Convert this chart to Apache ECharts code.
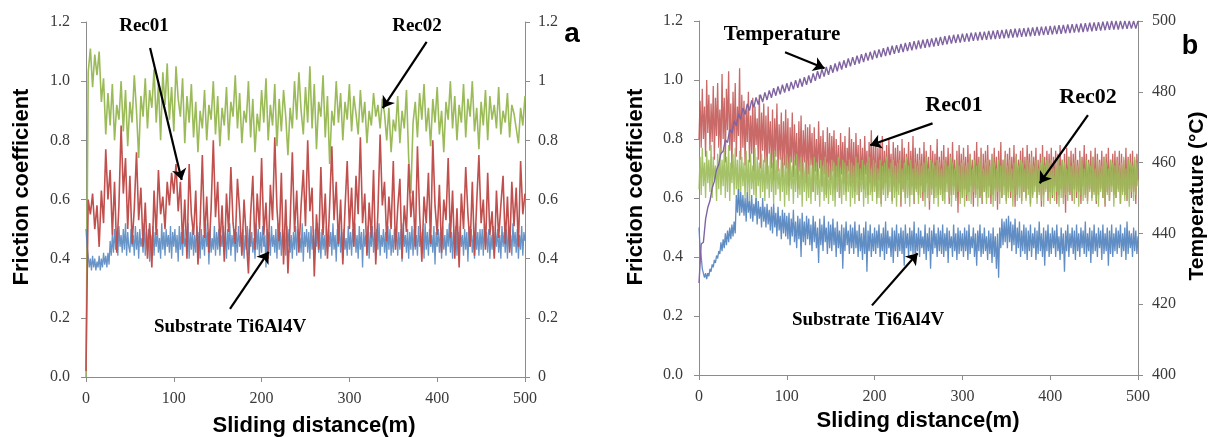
<!DOCTYPE html>
<html>
<head>
<meta charset="utf-8">
<script src="https://cdn.jsdelivr.net/npm/echarts@6/dist/echarts.min.js"></script>
<style>html,body{margin:0;padding:0;background:#fff}#c{width:1208px;height:437px}</style>
</head>
<body>
<div id="c"></div>
<script>
// sampling steps along sliding distance (m)
const coarseStep = 2.5;   // Rec01 / Rec02 of panel a, temperature
const fineStep = 1.25;    // substrate of panel a, all friction traces of panel b
const xTicks = [0, 100, 200, 300, 400, 500];

// Panel a: friction coefficient
const rec02A = [0.00,1.03,1.11,0.98,1.09,1.02,1.10,0.93,1.01,0.82,
0.96,0.85,0.99,0.80,0.92,0.87,1.00,0.83,0.97,0.78,
0.93,0.86,1.02,0.90,0.74,0.95,0.88,1.01,0.84,0.97,
0.91,1.04,0.86,0.99,0.80,1.03,0.92,1.06,0.87,0.98,
0.83,1.05,0.94,0.88,1.01,0.79,0.95,0.86,0.99,0.81,
0.93,0.76,0.90,0.84,0.97,0.80,0.92,0.87,1.00,0.82,
0.95,0.78,0.91,0.85,0.98,0.80,0.93,0.88,1.02,0.84,
0.96,0.79,0.90,0.86,1.00,0.81,0.94,0.76,0.89,0.83,
0.97,0.86,1.01,0.80,0.92,0.85,0.99,0.78,0.94,0.83,
0.97,0.88,0.75,0.91,0.84,1.00,0.87,1.03,0.90,0.82,
0.98,0.86,1.05,0.84,0.99,0.77,0.93,0.88,1.02,0.81,
0.95,0.72,0.90,0.85,1.00,0.86,0.96,0.80,0.93,0.87,
0.99,0.83,0.95,0.89,0.82,0.97,0.86,0.93,0.79,0.90,
0.85,0.96,0.88,0.92,0.84,0.94,0.89,0.80,0.91,0.76,
0.87,0.83,0.95,0.79,0.90,0.84,0.97,0.74,0.62,0.86,
0.93,0.81,0.96,0.87,0.99,0.83,0.91,0.78,0.94,0.86,
0.98,0.82,0.90,0.76,0.93,0.87,1.00,0.84,0.95,0.80,
0.92,0.86,0.99,0.81,0.94,0.88,1.00,0.83,0.91,0.77,
0.93,0.85,0.97,0.80,0.95,0.87,0.92,0.84,0.98,0.82,
0.90,0.86,0.96,0.81,0.92,0.89,0.84,0.79,0.91,0.85,
0.95];

const rec01A = [0.02,0.60,0.55,0.62,0.50,0.58,0.44,0.63,0.52,0.77,
0.60,0.70,0.48,0.66,0.42,0.58,0.85,0.62,0.74,0.50,
0.68,0.45,0.57,0.76,0.53,0.64,0.44,0.59,0.40,0.52,
0.37,0.63,0.48,0.70,0.55,0.61,0.50,0.66,0.58,0.69,
0.62,0.72,0.56,0.66,0.45,0.60,0.40,0.72,0.55,0.48,
0.63,0.38,0.52,0.75,0.47,0.61,0.42,0.57,0.80,0.54,
0.66,0.44,0.58,0.39,0.62,0.49,0.71,0.52,0.45,0.67,
0.56,0.41,0.60,0.47,0.35,0.55,0.68,0.43,0.62,0.50,
0.74,0.48,0.59,0.40,0.65,0.53,0.81,0.57,0.46,0.69,
0.38,0.60,0.35,0.52,0.76,0.49,0.63,0.42,0.58,0.70,
0.51,0.80,0.56,0.64,0.34,0.55,0.43,0.71,0.48,0.62,
0.40,0.58,0.78,0.53,0.66,0.45,0.60,0.38,0.57,0.73,
0.50,0.64,0.44,0.68,0.55,0.81,0.52,0.62,0.41,0.59,
0.47,0.70,0.38,0.56,0.82,0.58,0.66,0.46,0.61,0.50,
0.73,0.43,0.57,0.67,0.40,0.58,0.49,0.72,0.54,0.63,
0.44,0.78,0.55,0.39,0.61,0.52,0.69,0.45,0.80,0.58,
0.48,0.65,0.42,0.60,0.53,0.74,0.47,0.63,0.40,0.57,
0.37,0.62,0.50,0.71,0.55,0.44,0.66,0.41,0.59,0.75,
0.52,0.60,0.43,0.69,0.48,0.56,0.40,0.63,0.47,0.58,
0.68,0.45,0.61,0.42,0.66,0.51,0.64,0.44,0.73,0.55,
0.62];

const substrateA = [.50,.44,.41,.37,.40,.36,.41,.37,.40,.36,.39,.37,.41,.36,.40,.37,.42,.38,.41,.37,
.42,.38,.46,.41,.48,.42,.50,.43,.49,.41,.51,.44,.48,.42,.50,.43,.52,.41,.49,.44,
.42,.50,.44,.48,.41,.51,.43,.49,.40,.50,.44,.47,.42,.52,.41,.49,.43,.50,.39,.48,
.43,.51,.41,.49,.44,.50,.42,.47,.40,.52,.43,.49,.41,.50,.44,.48,.42,.51,.40,.49,
.44,.50,.42,.48,.39,.51,.43,.49,.41,.50,.44,.47,.42,.52,.40,.49,.43,.50,.41,.48,
.42,.51,.44,.49,.40,.50,.43,.48,.41,.52,.44,.49,.38,.50,.42,.47,.43,.51,.41,.49,
.43,.50,.41,.48,.44,.51,.42,.49,.40,.50,.43,.52,.41,.48,.44,.50,.39,.49,.42,.51,
.44,.49,.42,.50,.40,.48,.43,.51,.41,.50,.44,.49,.42,.47,.40,.52,.43,.50,.41,.49,
.42,.51,.44,.48,.37,.50,.43,.49,.41,.51,.44,.48,.42,.50,.40,.52,.43,.49,.41,.50,
.43,.49,.41,.51,.44,.50,.42,.48,.40,.49,.43,.51,.41,.50,.44,.47,.42,.52,.39,.49,
.44,.50,.42,.49,.40,.51,.43,.48,.41,.50,.44,.52,.42,.49,.40,.50,.43,.48,.41,.51,
.42,.50,.44,.49,.41,.52,.43,.48,.39,.50,.44,.51,.42,.49,.40,.50,.43,.47,.41,.51,
.43,.49,.41,.50,.44,.52,.42,.48,.40,.51,.43,.49,.37,.50,.44,.48,.42,.51,.40,.49,
.44,.51,.42,.49,.40,.50,.43,.52,.41,.48,.44,.50,.42,.49,.40,.51,.43,.50,.41,.48,
.42,.50,.44,.51,.41,.49,.43,.50,.39,.52,.44,.48,.42,.50,.40,.49,.43,.51,.41,.50,
.43,.48,.41,.51,.44,.49,.42,.50,.40,.52,.43,.49,.41,.50,.44,.48,.42,.51,.38,.49,
.44,.50,.42,.49,.40,.51,.43,.48,.41,.50,.44,.52,.42,.49,.40,.50,.43,.51,.41,.49,
.42,.51,.44,.48,.41,.50,.43,.49,.39,.51,.44,.50,.42,.48,.40,.52,.43,.49,.41,.50,
.43,.50,.41,.52,.44,.49,.42,.50,.40,.48,.43,.51,.41,.49,.44,.50,.42,.48,.40,.51,
.44,.49,.42,.50,.40,.51,.43,.48,.41,.52,.44,.49,.42,.50,.40,.48,.43,.51,.41,.49,
.46];

// Panel b: friction coefficient
const rec01B = [.80,.93,.77,.97,.80,.91,.74,1.00,.82,.95,.76,.92,.79,.98,.73,.94,.81,.99,.77,.90,
.75,1.02,.80,.94,.72,.97,.83,1.03,.76,.92,.70,.96,.79,.99,.74,.91,.81,1.04,.73,.95,
.77,.93,.71,.90,.79,.96,.72,.88,.75,.94,.69,.91,.78,.87,.73,.95,.70,.89,.76,.92,
.72,.88,.68,.91,.75,.86,.70,.90,.66,.87,.74,.92,.69,.85,.73,.89,.67,.86,.71,.90,
.70,.87,.64,.84,.72,.89,.67,.85,.71,.82,.63,.86,.69,.88,.66,.83,.72,.85,.65,.84,
.68,.85,.71,.82,.62,.84,.69,.80,.66,.86,.70,.81,.64,.83,.68,.79,.61,.84,.67,.82,
.66,.81,.69,.83,.63,.80,.67,.78,.60,.82,.68,.79,.65,.81,.62,.77,.69,.84,.64,.80,
.65,.79,.62,.82,.67,.78,.59,.80,.66,.77,.63,.81,.68,.76,.61,.79,.65,.83,.62,.78,
.64,.80,.60,.77,.66,.79,.58,.81,.63,.76,.65,.78,.61,.80,.67,.75,.59,.79,.64,.77,
.62,.78,.65,.76,.57,.80,.63,.77,.60,.75,.66,.79,.61,.76,.64,.81,.58,.77,.63,.75,
.61,.77,.64,.75,.59,.79,.62,.76,.65,.74,.56,.78,.63,.76,.60,.75,.64,.80,.61,.74,
.63,.76,.59,.78,.62,.74,.65,.77,.58,.75,.61,.79,.64,.73,.60,.76,.55,.78,.62,.75,
.60,.77,.63,.74,.59,.78,.62,.75,.64,.73,.57,.76,.61,.79,.63,.74,.60,.77,.58,.75,
.62,.76,.60,.78,.64,.73,.58,.75,.61,.77,.63,.74,.56,.76,.62,.79,.60,.73,.64,.76,
.59,.75,.62,.77,.60,.74,.63,.78,.57,.75,.61,.73,.64,.76,.59,.77,.62,.74,.60,.78,
.63,.75,.58,.76,.61,.74,.64,.77,.60,.73,.62,.75,.57,.78,.61,.74,.63,.76,.59,.75,
.62,.77,.60,.74,.64,.76,.58,.75,.61,.78,.63,.73,.60,.75,.55,.77,.62,.74,.61,.76,
.59,.75,.63,.77,.60,.73,.62,.76,.58,.74,.64,.78,.61,.75,.59,.73,.63,.76,.60,.74,
.62,.77,.58,.75,.61,.73,.63,.76,.60,.74,.57,.75,.62,.77,.59,.73,.64,.75,.61,.76,
.60,.74,.63,.76,.58,.75,.62,.73,.61,.77,.59,.74,.63,.75,.60,.76,.62,.73,.58,.75,
.66];

const rec02B = [.63,.74,.61,.77,.64,.72,.60,.76,.65,.73,.62,.78,.60,.74,.66,.71,.59,.75,.63,.77,
.61,.73,.64,.76,.60,.74,.62,.78,.59,.72,.65,.75,.61,.77,.63,.73,.58,.76,.62,.74,
.64,.72,.60,.76,.62,.73,.59,.75,.63,.71,.61,.77,.58,.74,.64,.72,.60,.75,.62,.73,
.59,.74,.63,.71,.60,.75,.62,.72,.58,.76,.61,.73,.63,.70,.59,.74,.62,.72,.57,.75,
.61,.72,.59,.74,.63,.71,.58,.73,.62,.75,.60,.70,.61,.74,.57,.72,.62,.73,.59,.71,
.60,.73,.58,.71,.62,.74,.59,.72,.61,.70,.57,.73,.62,.71,.59,.74,.60,.72,.58,.70,
.61,.73,.59,.72,.57,.71,.62,.74,.60,.70,.58,.73,.61,.72,.59,.71,.62,.73,.57,.72,
.60,.71,.58,.74,.61,.72,.59,.70,.62,.73,.57,.71,.60,.72,.58,.74,.61,.70,.59,.73,
.62,.72,.58,.70,.60,.73,.57,.71,.61,.72,.59,.74,.60,.70,.62,.72,.58,.73,.60,.71,
.57,.72,.61,.73,.59,.70,.62,.72,.58,.74,.60,.71,.57,.73,.61,.70,.59,.72,.62,.71,
.58,.73,.60,.71,.62,.72,.57,.74,.60,.70,.59,.73,.61,.72,.58,.71,.60,.73,.57,.72,
.61,.70,.59,.73,.58,.72,.62,.71,.60,.74,.57,.72,.61,.70,.59,.73,.62,.71,.58,.72,
.60,.73,.57,.71,.61,.72,.59,.74,.58,.70,.62,.73,.60,.71,.57,.72,.61,.74,.59,.70,
.62,.72,.58,.73,.60,.71,.61,.74,.57,.72,.59,.70,.62,.73,.58,.71,.60,.72,.61,.74,
.58,.71,.60,.73,.62,.70,.57,.72,.61,.74,.59,.71,.60,.73,.58,.72,.62,.70,.59,.73,
.61,.72,.57,.74,.60,.71,.62,.73,.58,.70,.61,.72,.59,.74,.57,.71,.62,.73,.60,.72,
.58,.73,.61,.70,.59,.72,.62,.74,.57,.71,.60,.73,.58,.72,.61,.70,.59,.74,.62,.71,
.60,.72,.58,.73,.62,.71,.57,.74,.61,.72,.59,.70,.60,.73,.58,.72,.62,.71,.59,.74,
.61,.70,.59,.73,.57,.72,.62,.71,.60,.74,.58,.72,.61,.70,.59,.73,.62,.72,.57,.71,
.60,.73,.62,.71,.58,.72,.61,.74,.59,.70,.60,.73,.57,.72,.62,.71,.59,.74,.61,.72,
.64];

const substrateB = [.50,.43,.40,.36,.355,.33,.345,.325,.345,.335,.36,.35,.375,.365,.39,.38,.405,.395,.42,.41,
.45,.42,.46,.43,.48,.44,.49,.45,.50,.46,.51,.47,.52,.48,.61,.55,.63,.54,.62,.55,
.61,.54,.60,.52,.62,.55,.59,.53,.61,.52,.58,.54,.60,.51,.59,.53,.57,.50,.60,.52,
.57,.50,.58,.51,.56,.49,.57,.48,.58,.50,.55,.47,.57,.49,.54,.46,.56,.48,.55,.47,
.54,.46,.55,.44,.53,.47,.56,.45,.52,.43,.54,.46,.53,.40,.55,.45,.52,.44,.54,.46,
.53,.44,.51,.42,.54,.45,.52,.43,.50,.38,.53,.44,.51,.42,.54,.45,.50,.41,.52,.43,
.51,.42,.53,.44,.50,.40,.52,.43,.49,.41,.51,.36,.50,.42,.52,.44,.49,.41,.51,.43,
.50,.41,.52,.43,.49,.40,.51,.42,.48,.39,.50,.41,.52,.35,.49,.42,.51,.40,.48,.42,
.50,.41,.49,.43,.51,.40,.48,.42,.50,.39,.52,.41,.49,.43,.47,.40,.50,.38,.49,.42,
.51,.40,.48,.42,.50,.41,.49,.37,.51,.43,.48,.40,.50,.42,.49,.41,.52,.39,.48,.42,
.50,.40,.49,.43,.47,.41,.51,.39,.48,.42,.50,.36,.49,.41,.51,.43,.48,.40,.50,.42,
.49,.41,.51,.40,.48,.42,.50,.38,.49,.43,.47,.40,.51,.42,.48,.39,.50,.41,.49,.42,
.48,.40,.50,.42,.49,.39,.51,.41,.47,.43,.50,.40,.48,.37,.49,.42,.51,.40,.48,.41,
.50,.42,.47,.39,.49,.41,.48,.38,.50,.40,.47,.36,.48,.33,.50,.43,.53,.44,.52,.45,
.53,.43,.54,.45,.52,.42,.51,.44,.53,.41,.50,.43,.52,.40,.49,.42,.51,.41,.50,.39,
.49,.42,.51,.40,.48,.43,.50,.39,.49,.41,.52,.42,.48,.40,.50,.37,.49,.42,.51,.40,
.48,.41,.50,.43,.49,.40,.51,.42,.47,.39,.50,.41,.48,.35,.49,.42,.51,.40,.48,.43,
.50,.41,.49,.39,.51,.42,.48,.40,.50,.43,.49,.41,.52,.40,.48,.42,.50,.38,.49,.41,
.51,.42,.48,.40,.50,.43,.49,.39,.51,.41,.48,.42,.50,.37,.49,.41,.51,.40,.48,.42,
.50,.41,.49,.43,.51,.40,.48,.42,.50,.39,.52,.41,.49,.43,.48,.40,.50,.42,.49,.41,
.47];

// Panel b: temperature (°C)
const temperatureB = [426,437,437.5,444,447.3,449.2,452.8,454.7,458,459.5,
462.6,463.2,466.4,465.7,469.4,468.3,471.8,470.4,473.8,472.2,
475.4,473.6,476.6,474.7,477.6,475.6,478.4,476.4,479.2,477.1,
479.8,477.7,480.4,478.3,481,478.9,481.5,479.3,482,479.8,
482.4,480.2,482.8,480.7,483.3,481.1,483.7,481.5,484.1,482,
484.6,482.5,485.2,483.1,485.8,483.7,486.4,484.3,487,484.8,
487.5,485.4,488,485.8,488.5,486.3,488.9,486.8,489.4,487.2,
489.8,487.6,490.2,488,490.6,488.4,491,488.8,491.3,489.1,
491.7,489.5,492,489.8,492.3,490.1,492.7,490.4,493,490.7,
493.2,491,493.5,491.2,493.8,491.5,494,491.7,494.3,492,
494.5,492.2,494.7,492.4,494.9,492.6,495.1,492.8,495.3,493,
495.5,493.2,495.7,493.4,495.9,493.6,496.1,493.8,496.2,493.9,
496.4,494.1,496.5,494.2,496.7,494.4,496.8,494.5,496.9,494.6,
497,494.7,497.2,494.8,497.3,494.9,497.4,495,497.5,495.1,
497.6,495.2,497.7,495.3,497.8,495.4,497.9,495.5,498,495.6,
498.1,495.7,498.2,495.8,498.3,495.9,498.4,496,498.5,496.1,
498.6,496.2,498.7,496.3,498.8,496.4,498.9,496.5,499,496.6,
499.1,496.7,499.2,496.8,499.3,496.9,499.4,497,499.5,497.1,
499.6,497.2,499.7,497.3,499.8,497.4,499.9,497.5,500,497.6,
500,497.6,500,497.7,500,497.8,500,497.9,500,497.9,
500];

function pairs(arr, step) { return arr.map((v, i) => [i * step, v]); }

const AXIS_COLOR = '#8c8c8c';
const labelStyle = { fontFamily: 'Liberation Serif', fontSize: 16, color: '#3a3a3a' };

function xAxis(gridIndex) {
  return {
    type: 'value', gridIndex, min: xTicks[0], max: xTicks[xTicks.length - 1], interval: 100,
    axisLine: { show: true, lineStyle: { color: AXIS_COLOR } },
    axisTick: { show: true, length: 5, lineStyle: { color: AXIS_COLOR } },
    axisLabel: Object.assign({ margin: 14 }, labelStyle),
    splitLine: { show: false }
  };
}
function yAxis(gridIndex, position, min, max, interval, fmt, margin) {
  return {
    type: 'value', gridIndex, position, min, max, interval,
    axisLine: { show: true, onZero: false, lineStyle: { color: AXIS_COLOR } },
    axisTick: { show: true, length: 5, lineStyle: { color: AXIS_COLOR } },
    axisLabel: Object.assign({ margin, formatter: fmt }, labelStyle),
    splitLine: { show: false }
  };
}

const arrowBase = {
  silent: true, animation: false, symbol: ['none', 'arrow'], symbolSize: 11,
  label: { show: false }, emphasis: { disabled: true },
  lineStyle: { color: '#000', width: 2.2, type: 'solid', opacity: 1 }
};

function lineSeries(name, data, color, width, opacity, xi, yi, extra) {
  return Object.assign({
    name, type: 'line', data, xAxisIndex: xi, yAxisIndex: yi,
    showSymbol: false, symbol: 'none', animation: false, silent: true,
    lineStyle: { color, width, opacity }, itemStyle: { color }
  }, extra || {});
}

const annoFont = (size) => 'bold ' + size + 'px "Liberation Serif"';
const titleFont = 'bold 22px "Liberation Sans"';
function txt(text, x, y, font, rot) {
  return { type: 'text', x, y, rotation: rot || 0, silent: true,
    style: { text, font, fill: '#000', align: 'center', verticalAlign: 'middle' } };
}

const option = {
  animation: false,
  backgroundColor: '#fff',
  grid: [
    { left: 86, top: 22, width: 439, height: 355 },
    { left: 699, top: 21, width: 439, height: 354 }
  ],
  xAxis: [xAxis(0), xAxis(1)],
  yAxis: [
    yAxis(0, 'left', 0, 1.2, 0.2, v => v.toFixed(1), 16),
    yAxis(0, 'right', 0, 1.2, 0.2, v => String(+v.toFixed(1)), 13),
    yAxis(1, 'left', 0, 1.2, 0.2, v => v.toFixed(1), 16),
    yAxis(1, 'right', 400, 500, 20, v => String(v), 14)
  ],
  series: [
    lineSeries('Rec02', pairs(rec02A, coarseStep), '#9BBB59', 1.6, 1, 0, 0),
    lineSeries('Substrate Ti6Al4V', pairs(substrateA, fineStep), '#4F81BD', 1.3, 0.85, 0, 0),
    lineSeries('Rec01', pairs(rec01A, coarseStep), '#C0504D', 1.6, 1, 0, 0, {
      markLine: Object.assign({}, arrowBase, { data: [
        [{ coord: [73, 1.112] }, { coord: [109, 0.666] }],
        [{ coord: [388, 1.133] }, { coord: [338, 0.909] }],
        [{ coord: [164, 0.230] }, { coord: [208, 0.423] }]
      ] })
    }),
    lineSeries('Rec01 b', pairs(rec01B, fineStep), '#C0504D', 1.3, 0.85, 1, 2),
    lineSeries('Rec02 b', pairs(rec02B, fineStep), '#9BBB59', 1.3, 0.9, 1, 2),
    lineSeries('Substrate b', pairs(substrateB, fineStep), '#4F81BD', 1.3, 0.9, 1, 2, {
      markLine: Object.assign({}, arrowBase, { data: [
        [{ coord: [98, 1.094] }, { coord: [143, 1.040] }],
        [{ coord: [266, 0.853] }, { coord: [195, 0.779] }],
        [{ coord: [443, 0.881] }, { coord: [388, 0.650] }],
        [{ coord: [197, 0.236] }, { coord: [249, 0.413] }]
      ] })
    }),
    lineSeries('Temperature', pairs(temperatureB, coarseStep), '#8064A2', 1.4, 1, 1, 3)
  ],
  graphic: [
    txt('Friction coefficient', 22, 187, titleFont, Math.PI / 2),
    txt('Sliding distance(m)', 314, 426, titleFont),
    txt('Friction coefficient', 636, 187, titleFont, Math.PI / 2),
    txt('Sliding distance(m)', 918, 421, titleFont),
    txt('Temperature (°C)', 1197, 196, 'bold 21px "Liberation Sans"', Math.PI / 2),
    txt('a', 572, 34, 'bold 28px "Liberation Sans"'),
    txt('b', 1190, 47, 'bold 27px "Liberation Sans"'),
    txt('Rec01', 144, 26, annoFont(19)),
    txt('Rec02', 417, 26, annoFont(19)),
    txt('Substrate Ti6Al4V', 230, 327, annoFont(19)),
    txt('Temperature', 782, 35, annoFont(21)),
    txt('Rec01', 954, 105, annoFont(22)),
    txt('Rec02', 1088, 97, annoFont(22)),
    txt('Substrate Ti6Al4V', 868, 320, annoFont(19))
  ]
};

const chart = echarts.init(document.getElementById('c'), null, { renderer: 'canvas' });
chart.setOption(option);
</script>
</body>
</html>
